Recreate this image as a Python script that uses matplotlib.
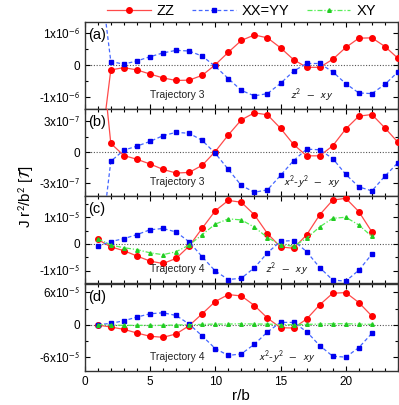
import matplotlib
matplotlib.use("Agg")
import matplotlib.pyplot as plt
import numpy as np
from matplotlib.ticker import MultipleLocator, AutoMinorLocator, FixedLocator

plt.rcParams['font.family'] = ['Liberation Sans', 'DejaVu Sans']
plt.rcParams['mathtext.fontset'] = 'stixsans'

# r/b positions
r_ab = np.arange(1, 25)
r_cd = np.arange(1, 23)

# panel (a), units of 1e-6
zz_a = [-3.4, -0.14, -0.07, -0.14, -0.27, -0.39, -0.47, -0.46, -0.31, 0.02, 0.41, 0.78,
        0.95, 0.86, 0.55, 0.18, -0.06, -0.06, 0.19, 0.56, 0.85, 0.86, 0.59, 0.22]
xx_a = [3.4, 0.12, 0.04, 0.14, 0.27, 0.39, 0.47, 0.45, 0.29, -0.03, -0.41, -0.78,
        -0.95, -0.88, -0.56, -0.18, 0.06, 0.06, -0.20, -0.57, -0.86, -0.88, -0.59, -0.20]

# panel (b), units of 1e-7
zz_b = [13.0, 0.84, -0.32, -0.68, -1.13, -1.65, -2.0, -1.94, -1.26, 0.06, 1.65, 3.1,
        3.77, 3.58, 2.29, 0.74, -0.35, -0.35, 0.61, 2.23, 3.45, 3.61, 2.32, 0.94]
xx_b = [-11.3, -0.87, 0.19, 0.58, 1.03, 1.58, 1.9, 1.81, 1.13, -0.10, -1.65, -3.19,
        -3.84, -3.61, -2.23, -0.81, 0.29, 0.23, -0.61, -2.13, -3.32, -3.71, -2.29, -1.0]

# panel (c), units of 1e-5
zz_c = [0.17, -0.11, -0.25, -0.45, -0.64, -0.73, -0.54, -0.08, 0.59, 1.24, 1.63, 1.56,
        1.09, 0.39, -0.11, -0.16, 0.34, 1.09, 1.64, 1.71, 1.21, 0.45]
xx_c = [-0.08, 0.09, 0.20, 0.35, 0.53, 0.58, 0.45, 0.08, -0.48, -1.01, -1.33, -1.28,
        -0.89, -0.33, 0.10, 0.13, -0.29, -0.88, -1.35, -1.39, -0.98, -0.38]
xy_c = [0.20, -0.04, -0.14, -0.21, -0.33, -0.40, -0.29, -0.04, 0.35, 0.74, 0.94, 0.90,
        0.63, 0.24, -0.03, -0.08, 0.21, 0.64, 0.96, 1.00, 0.71, 0.28]

# panel (d), units of 1e-5
zz_d = [-0.06, -0.43, -0.86, -1.54, -2.15, -2.34, -1.72, -0.18, 2.03, 4.31, 5.6, 5.35,
        3.57, 1.23, -0.55, -0.62, 1.05, 3.69, 5.85, 5.97, 4.12, 1.6]
xx_d = [0.0, 0.25, 0.74, 1.42, 2.03, 2.22, 1.72, 0.12, -2.09, -4.43, -5.72, -5.42,
        -3.63, -1.35, 0.43, 0.43, -1.29, -3.88, -5.85, -6.03, -4.25, -1.6]
xy_d = [0.0, -0.06, -0.12, -0.12, -0.12, -0.12, -0.06, 0.0, 0.06, 0.12, 0.12, 0.18,
        0.12, 0.12, 0.0, 0.0, 0.06, 0.12, 0.18, 0.18, 0.12, 0.06]

panel_labels = ['(a)', '(b)', '(c)', '(d)']
trajectories = ['Trajectory 3', 'Trajectory 3', 'Trajectory 4', 'Trajectory 4']
orbitals = [r'$z^2$  $-$  $xy$', r'$x^2$-$y^2$  $-$  $xy$', r'$z^2$  $-$  $xy$', r'$x^2$-$y^2$  $-$  $xy$']
orbital_x = [0.725, 0.725, 0.645, 0.645]
ytick_vals = [[-1e-6, 0, 1e-6], [-3e-7, 0, 3e-7], [-1e-5, 0, 1e-5], [-6e-5, 0, 6e-5]]
ytick_labels = [['-1x10$^{-6}$', '0', '1x10$^{-6}$'],
                ['-3x10$^{-7}$', '0', '3x10$^{-7}$'],
                ['-1x10$^{-5}$', '0', '1x10$^{-5}$'],
                ['-6x10$^{-5}$', '0', '6x10$^{-5}$']]
ylims = [(-1.37e-6, 1.35e-6), (-4.2e-7, 4.15e-7), (-1.46e-5, 1.8e-5), (-8.6e-5, 7.6e-5)]

panels = [
    (r_ab, np.array(zz_a) * 1e-6, np.array(xx_a) * 1e-6, None),
    (r_ab, np.array(zz_b) * 1e-7, np.array(xx_b) * 1e-7, None),
    (r_cd, np.array(zz_c) * 1e-5, np.array(xx_c) * 1e-5, np.array(xy_c) * 1e-5),
    (r_cd, np.array(zz_d) * 1e-5, np.array(xx_d) * 1e-5, np.array(xy_d) * 1e-5),
]

fig = plt.figure(figsize=(3.99, 4.05), dpi=100)
left, width, h = 0.2123, 0.7852, 0.2152
bottoms = [0.7301, 0.5160, 0.3012, 0.0840]

for i, (r, zz, xx, xy) in enumerate(panels):
    ax = fig.add_axes([left, bottoms[i], width, h])
    ax.axhline(0, color='#555555', linestyle=(0, (1, 1.5)), linewidth=0.8, zorder=1)
    ax.plot(r, zz, color='#ff4a4a', linewidth=0.9, marker='o', markersize=4,
            markerfacecolor='red', markeredgecolor='red', label='ZZ', zorder=3)
    ax.plot(r, xx, color='#4466ff', linewidth=0.9, linestyle=(0, (3, 2)), marker='s',
            markersize=2.6, markerfacecolor='#0000ee', markeredgecolor='#0000ee',
            label='XX=YY', zorder=4)
    if xy is not None:
        ax.plot(r, xy, color='#55ee55', linewidth=0.9, linestyle=(0, (4, 1.5, 1, 1.5)),
                marker='^', markersize=2.6, markerfacecolor='#22cc22',
                markeredgecolor='#22cc22', label='XY', zorder=5)
    ax.set_xlim(0, 24)
    ax.set_ylim(*ylims[i])
    ax.xaxis.set_major_locator(MultipleLocator(5))
    ax.xaxis.set_minor_locator(MultipleLocator(1))
    ax.yaxis.set_major_locator(FixedLocator(ytick_vals[i]))
    ax.set_yticklabels(ytick_labels[i])
    ax.yaxis.set_minor_locator(AutoMinorLocator(2))
    ax.tick_params(which='both', direction='in', top=True, right=True, labelsize=8.5, width=0.8)
    ax.tick_params(which='major', length=3.5)
    ax.tick_params(which='minor', length=2)
    for sp in ax.spines.values():
        sp.set_linewidth(1.0)
        sp.set_color('#333333')
    if i < 3:
        ax.set_xticklabels([])
    else:
        ax.set_xlabel('r/b', fontsize=11, labelpad=1)
    ax.text(0.01, 0.85, panel_labels[i], transform=ax.transAxes, fontsize=10.5,
            ha='left', va='center')
    ax.text(0.295, 0.16, trajectories[i], transform=ax.transAxes, fontsize=7.5,
            ha='center', va='center', color='#222222')
    ax.text(orbital_x[i], 0.16, orbitals[i], transform=ax.transAxes, fontsize=8,
            ha='center', va='center', color='#222222')
    if i == 2:
        handles, labels = ax.get_legend_handles_labels()

fig.text(0.065, 0.515, r'J r$^2$/b$^2$ [$\mathcal{T}$]', rotation=90, fontsize=11,
         ha='center', va='center')
fig.legend(handles, labels, loc='center', bbox_to_anchor=(0.605, 0.972), ncol=3,
           frameon=False, fontsize=10.5, handlelength=3.0, numpoints=1,
           columnspacing=1.2, handletextpad=0.4, borderaxespad=0)

fig.savefig('out.png', dpi=100)
